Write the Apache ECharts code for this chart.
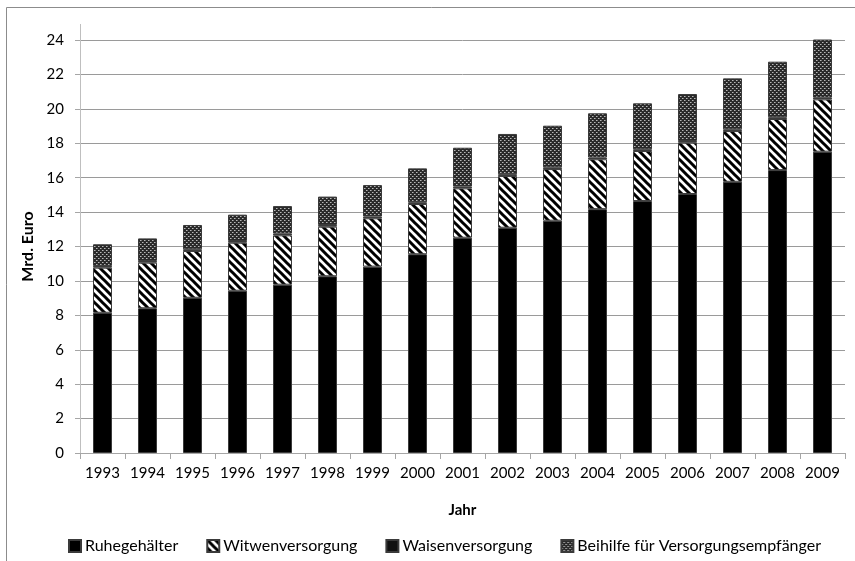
<!DOCTYPE html>
<html>
<head>
<meta charset="utf-8">
<script src="https://cdn.jsdelivr.net/npm/echarts@6/dist/echarts.min.js"></script>
<style>
  html, body { margin: 0; padding: 0; background: #fff; }
  #chart { width: 855px; height: 561px; }
</style>
</head>
<body>
<div id="chart"></div>
<script>
// values (Mrd. Euro)
var years = ['1993', '1994', '1995', '1996', '1997', '1998', '1999', '2000', '2001',
  '2002', '2003', '2004', '2005', '2006', '2007', '2008', '2009']
var ruhegehaelter = [8.15, 8.41, 9.02, 9.43, 9.78, 10.27, 10.83, 11.55, 12.51,
  13.09, 13.50, 14.17, 14.64, 15.05, 15.76, 16.44, 17.51]
var witwen = [2.62, 2.65, 2.72, 2.79, 2.87, 2.88, 2.81, 2.92, 2.87,
  3.01, 3.00, 2.90, 2.91, 2.98, 2.95, 2.97, 3.04]
var waisen = [0.1, 0.1, 0.1, 0.1, 0.1, 0.1, 0.1, 0.1, 0.1,
  0.1, 0.1, 0.1, 0.1, 0.1, 0.1, 0.1, 0.1]
var beihilfe = [1.26, 1.31, 1.41, 1.53, 1.60, 1.65, 1.83, 1.97, 2.26,
  2.34, 2.42, 2.57, 2.67, 2.73, 2.96, 3.23, 3.39]
var seriesNames = ['Ruhegehälter', 'Witwenversorgung', 'Waisenversorgung', 'Beihilfe für Versorgungsempfänger']

var FONT = 'Lato, "Open Sans", sans-serif'

// diagonal stripes "\" black on white
function stripePattern() {
  var c = document.createElement('canvas')
  c.width = 8
  c.height = 8
  var ctx = c.getContext('2d')
  ctx.fillStyle = '#fff'
  ctx.fillRect(0, 0, 8, 8)
  ctx.strokeStyle = '#000'
  ctx.lineWidth = 3
  ctx.beginPath()
  ctx.moveTo(-2, -2); ctx.lineTo(10, 10)
  ctx.moveTo(-6, 2); ctx.lineTo(2, 10)
  ctx.moveTo(6, -2); ctx.lineTo(14, 6)
  ctx.stroke()
  return c
}

// dotted crosshatch, dark grey
function hatchPattern() {
  var c = document.createElement('canvas')
  c.width = 4
  c.height = 4
  var ctx = c.getContext('2d')
  ctx.fillStyle = '#2a2a2a'
  ctx.fillRect(0, 0, 4, 4)
  ctx.fillStyle = '#b8b8b8'
  ctx.fillRect(0, 0, 1, 1)
  ctx.fillRect(2, 2, 1, 1)
  ctx.fillStyle = '#777'
  ctx.fillRect(1, 0, 1, 1)
  ctx.fillRect(3, 2, 1, 1)
  return c
}

var chart = echarts.init(document.getElementById('chart'))

function barSeries(name, data, color) {
  return {
    name: name,
    type: 'bar',
    stack: 'total',
    barWidth: 19,
    data: data,
    itemStyle: {
      color: color,
      borderColor: '#3a3a3a',
      borderWidth: 1
    },
    emphasis: { disabled: true }
  }
}

chart.setOption({
  animation: false,
  textStyle: { fontFamily: FONT },
  grid: {
    left: 80,
    right: 10,
    top: 40,
    bottom: 108
  },
  graphic: [
    {
      type: 'rect',
      shape: { x: 6.5, y: 7.5, width: 900, height: 600 },
      style: { fill: 'none', stroke: '#8c8c8c', lineWidth: 1 },
      silent: true
    },
    {
      type: 'line',
      shape: { x1: 80.5, y1: 24, x2: 80.5, y2: 40 },
      style: { stroke: '#bfbfbf', lineWidth: 1 },
      silent: true
    }
  ],
  legend: {
    top: 533,
    left: 63,
    itemWidth: 12,
    itemHeight: 12,
    itemGap: 28,
    icon: 'rect',
    data: seriesNames,
    textStyle: { fontFamily: FONT, fontSize: 16, color: '#000', padding: [0, 0, 0, -1] }
  },
  xAxis: {
    type: 'category',
    data: years,
    name: 'Jahr',
    nameLocation: 'middle',
    nameGap: 50,
    nameTextStyle: { fontFamily: FONT, fontSize: 15, fontWeight: 'bold', color: '#000' },
    axisLine: { lineStyle: { color: '#a6a6a6' } },
    axisTick: { show: true, alignWithLabel: false, length: 6, lineStyle: { color: '#a6a6a6' } },
    axisLabel: { interval: 0, margin: 13, fontSize: 15, color: '#000', fontFamily: FONT }
  },
  yAxis: {
    type: 'value',
    min: 0,
    max: 24,
    interval: 2,
    name: 'Mrd. Euro',
    nameLocation: 'middle',
    nameGap: 42,
    nameTextStyle: { fontFamily: FONT, fontSize: 16, fontWeight: 'bold', color: '#000' },
    axisLine: { show: true, lineStyle: { color: '#bfbfbf' } },
    axisTick: { show: true, length: 5, lineStyle: { color: '#a6a6a6' } },
    axisLabel: { margin: 16, fontSize: 15, color: '#000', fontFamily: FONT },
    splitLine: { lineStyle: { color: '#9a9a9a', width: 1 } }
  },
  series: [
    barSeries(seriesNames[0], ruhegehaelter, '#000'),
    barSeries(seriesNames[1], witwen, { image: stripePattern(), repeat: 'repeat' }),
    barSeries(seriesNames[2], waisen, '#111'),
    barSeries(seriesNames[3], beihilfe, { image: hatchPattern(), repeat: 'repeat' })
  ]
})
</script>
</body>
</html>
